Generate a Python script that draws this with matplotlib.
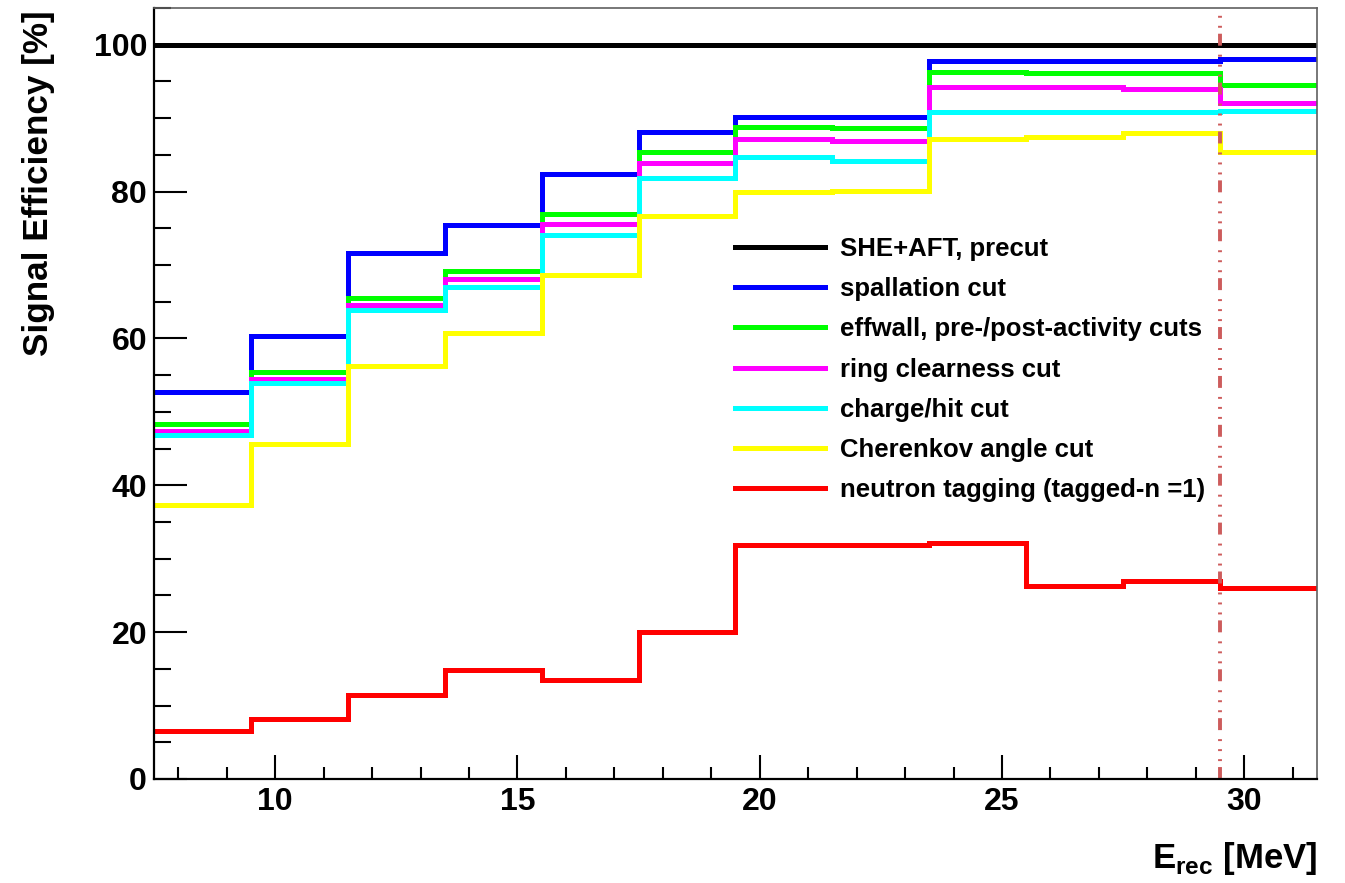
import matplotlib
matplotlib.use("Agg")
import matplotlib.pyplot as plt
from matplotlib.ticker import MultipleLocator
import numpy as np

plt.rcParams['font.family'] = ['Liberation Sans', 'DejaVu Sans']
plt.rcParams['font.weight'] = 'bold'
plt.rcParams['mathtext.fontset'] = 'custom'
plt.rcParams['mathtext.rm'] = 'Liberation Sans:bold'
plt.rcParams['mathtext.bf'] = 'Liberation Sans:bold'
plt.rcParams['lines.scale_dashes'] = False

# reconstructed energy bins [MeV], 2 MeV wide
edges = np.arange(7.5, 31.6, 2.0)

# signal efficiency [%] after each successive cut
precut = [100, 100, 100, 100, 100, 100, 100, 100, 100, 100, 100, 100]
spallation = [52.7, 60.3, 71.6, 75.4, 82.4, 88.1, 90.1, 90.1, 97.8, 97.8, 97.8, 98.0]
effwall = [48.4, 55.4, 65.5, 69.2, 77.0, 85.4, 88.8, 88.6, 96.3, 96.1, 96.1, 94.5]
ring = [47.4, 54.5, 64.5, 68.1, 75.6, 83.9, 87.1, 86.9, 94.3, 94.2, 94.0, 92.0]
charge_hit = [46.9, 53.9, 63.9, 67.0, 74.1, 81.9, 84.7, 84.1, 90.8, 90.9, 90.9, 91.0]
cherenkov = [37.3, 45.6, 56.2, 60.8, 68.6, 76.7, 80.0, 80.1, 87.2, 87.5, 88.0, 85.4]
ntag = [6.5, 8.2, 11.5, 14.9, 13.5, 20.0, 31.9, 31.8, 32.1, 26.3, 27.0, 26.0]

labels = ["SHE+AFT, precut", "spallation cut", "effwall, pre-/post-activity cuts",
          "ring clearness cut", "charge/hit cut", "Cherenkov angle cut",
          "neutron tagging (tagged-n =1)"]
colors = ["#000000", "#0000ff", "#00ff00", "#ff00ff", "#00ffff", "#ffff00", "#ff0000"]
series = [precut, spallation, effwall, ring, charge_hit, cherenkov, ntag]

e_cut = 29.5

fig = plt.figure(figsize=(13.45, 8.83), dpi=100)
ax = fig.add_axes([154 / 1345, 1 - 779 / 883, (1317 - 154) / 1345, (779 - 8) / 883])

for vals, col, lab in zip(series, colors, labels):
    ax.stairs(vals, edges, baseline=None, color=col, lw=3.6, label=lab)

# analysis threshold
ax.axvline(e_cut, color="#cd5c5c", lw=2.8,
           linestyle=(0, (8.6, 4.3, 1.4, 5.8, 1.4, 5.8, 1.4, 6.5)))

ax.set_xlim(7.5, 31.5)
ax.set_ylim(0, 105)

ax.xaxis.set_major_locator(MultipleLocator(5))
ax.xaxis.set_minor_locator(MultipleLocator(1))
ax.yaxis.set_major_locator(MultipleLocator(20))
ax.yaxis.set_minor_locator(MultipleLocator(5))

ax.tick_params(axis='x', which='major', direction='in', length=17, width=1.5,
               labelsize=23, pad=6)
ax.tick_params(axis='x', which='minor', direction='in', length=8.6, width=1.5)
ax.tick_params(axis='y', which='major', direction='in', length=24, width=1.5,
               labelsize=23, pad=5)
ax.tick_params(axis='y', which='minor', direction='in', length=12, width=1.5)

for side in ['left', 'bottom']:
    ax.spines[side].set_linewidth(1.6)
    ax.spines[side].set_color('black')
for side in ['top', 'right']:
    ax.spines[side].set_linewidth(1.2)
    ax.spines[side].set_color('#606060')

ax.set_ylabel("Signal Efficiency [%]", fontsize=25.3, fontweight='bold', loc='top')
ax.yaxis.set_label_coords((55 - 154) / 1163, 0.997)
ax.set_xlabel(r"E$_{\mathrm{rec}}$ [MeV]", fontsize=25, fontweight='bold', loc='right',
              labelpad=16)

ax.legend(loc='center left', bbox_to_anchor=(735 / 1345, 1 - 369.5 / 883),
          bbox_transform=fig.transFigure, frameon=False, fontsize=18.5,
          handlelength=3.5, handletextpad=0.58, labelspacing=0.63,
          borderpad=0, borderaxespad=0)

fig.savefig("out.png", dpi=100)
